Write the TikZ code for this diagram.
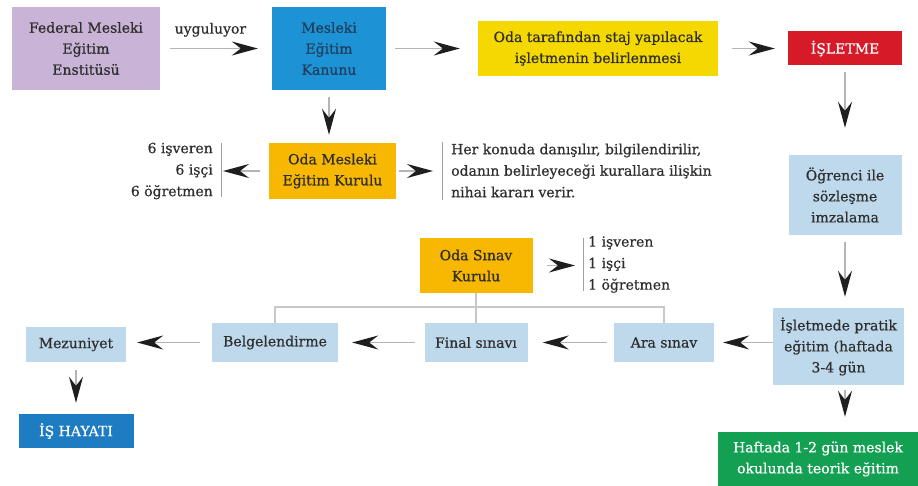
\documentclass[tikz,border=0pt]{standalone}
\usepackage{fontspec}
\setmainfont{DejaVu Serif}[FakeBold=0.6]
\usetikzlibrary{arrows.meta}
\definecolor{lav}{HTML}{C9B4D7}
\definecolor{bluek}{HTML}{1D93D6}
\definecolor{yel}{HTML}{F5D800}
\definecolor{redb}{HTML}{D71A28}
\definecolor{lblue}{HTML}{BED8EC}
\definecolor{orng}{HTML}{F8B700}
\definecolor{grn}{HTML}{14A052}
\definecolor{bluei}{HTML}{1E7CC3}
\definecolor{txt}{HTML}{2E2E2E}
\definecolor{navy}{HTML}{203E5C}
\definecolor{shaft}{HTML}{B4B4B4}
\definecolor{tipc}{HTML}{1E1E1E}
\definecolor{brk}{HTML}{C8C8C8}
\definecolor{barc}{HTML}{A0A0A0}
\begin{document}
\begin{tikzpicture}[x=1pt,y=-1pt,
  box/.style={rectangle, inner sep=2pt, align=center, text=txt, font=\fontsize{14}{21}\selectfont},
  lbl/.style={inner sep=0pt, text=txt, font=\fontsize{14}{21.5}\selectfont},
  arr/.style={draw=shaft, line width=1.6pt, -{Stealth[length=26pt,width=14pt,inset=9pt,color=tipc]}},
  bracket/.style={draw=brk, line width=2pt},
  bar/.style={draw=barc, line width=1pt}
]
\useasboundingbox (0,0) rectangle (918,486);
\fill[white] (0,0) rectangle (918,486);

% top row
\node[box, fill=lav, minimum width=148pt, minimum height=83pt] (fed) at (86,48.5) {Federal Mesleki\\Eğitim\\Enstitüsü};
\node[box, fill=bluek, text=navy, minimum width=114pt, minimum height=83pt] (kanun) at (329,48.5) {Mesleki\\Eğitim\\Kanunu};
\node[box, fill=yel, minimum width=240pt, minimum height=55pt] (staj) at (598,48.5) {Oda tarafından staj yapılacak\\işletmenin belirlenmesi};
\node[box, fill=redb, text=white, minimum width=114pt, minimum height=34pt] (isl) at (845,48.5) {İŞLETME};

% right column
\node[box, fill=lblue, minimum width=113pt, minimum height=80pt] (ogr) at (845,195) {Öğrenci ile\\sözleşme\\imzalama};
\node[box, fill=lblue, minimum width=131pt, minimum height=77pt] (prat) at (838.5,346.5) {İşletmede pratik\\eğitim (haftada\\3-4 gün};
\node[box, fill=grn, text=white, minimum width=200pt, minimum height=54pt] (grn) at (818,459) {Haftada 1-2 gün meslek\\okulunda teorik eğitim};

% oda mesleki
\node[box, fill=orng, minimum width=127pt, minimum height=56pt] (odam) at (332.5,171) {Oda Mesleki\\Eğitim Kurulu};
\node[lbl, anchor=east, align=right] (l6) at (213,171) {6 işveren\\6 işçi\\6 öğretmen};
\coordinate (b1t) at (221,143); \coordinate (b1b) at (221,197);
\node[lbl, anchor=west, align=left] (her) at (451,170.5) {Her konuda danışılır, bilgilendirilir,\\odanın belirleyeceği kurallara ilişkin\\nihai kararı verir.};
\coordinate (b2t) at (442,142); \coordinate (b2b) at (442,200);

% oda sinav
\node[box, fill=orng, minimum width=113pt, minimum height=55pt] (odas) at (476,265.5) {Oda Sınav\\Kurulu};
\node[lbl, anchor=west, align=left] (l1) at (588,264.5) {1 işveren\\1 işçi\\1 öğretmen};
\coordinate (b3t) at (583,238); \coordinate (b3b) at (583,291);

% bottom row
\node[box, fill=lblue, minimum width=100pt, minimum height=39pt] (ara) at (664,342.5) {Ara sınav};
\node[box, fill=lblue, minimum width=103pt, minimum height=39pt] (fin) at (476,342.5) {Final sınavı};
\node[box, fill=lblue, minimum width=126pt, minimum height=39pt] (bel) at (275,342.5) {Belgelendirme};
\node[box, fill=lblue, minimum width=100pt, minimum height=35pt] (mez) at (76,344.5) {Mezuniyet};
\node[box, fill=bluei, text=white, minimum width=115pt, minimum height=34pt] (ish) at (76,431) {İŞ HAYATI};

% bars
\draw[bar] (b1t) -- (b1b);
\draw[bar] (b2t) -- (b2b);
\draw[bar] (b3t) -- (b3b);

% brackets
\coordinate (hy) at (0,307);
\draw[bracket] (bel.north) -- (bel.north |- hy) -- (ara.north |- hy) -- (ara.north);
\draw[bracket] (odas.south) -- (fin.north);

% arrows
\draw[arr, shorten <=10pt, shorten >=14pt] (fed) -- node[lbl, above=11pt, pos=0.45] (uyg) {uyguluyor} (kanun);
\draw[arr, shorten <=9pt, shorten >=18pt] (kanun) -- (staj);
\draw[arr, shorten <=14pt, shorten >=13pt] (staj) -- (isl);
\draw[arr, shorten <=6pt, shorten >=27pt] (isl) -- (ogr);
\draw[arr, shorten <=7pt, shorten >=11pt] (ogr.south) -- (ogr.south |- prat.north);
\draw[arr, shorten <=5pt, shorten >=15pt] (ogr.south |- prat.south) -- (ogr.south |- grn.north);
\draw[arr, shorten <=0pt, shorten >=9pt] (prat.west |- ara) -- (ara.east);
\draw[arr, shorten <=7pt, shorten >=15pt] (ara) -- (fin);
\draw[arr, shorten <=9pt, shorten >=14pt] (fin) -- (bel);
\draw[arr, shorten <=12pt, shorten >=11pt] (bel.west) -- (bel.west -| mez.east);
\draw[arr, shorten <=8pt, shorten >=11pt] (mez) -- (ish);
\draw[arr, shorten <=7pt, shorten >=8pt] (kanun.south) -- (kanun.south |- odam.north);
\draw[arr, shorten <=9pt, shorten >=2pt] (odam.west) -- (odam.west -| b1t);
\draw[arr, shorten <=3pt, shorten >=9pt] (odam.east) -- (odam.east -| b2t);
\draw[arr, shorten <=14pt, shorten >=8pt] (odas.east) -- (odas.east -| b3t);
\end{tikzpicture}
\end{document}
